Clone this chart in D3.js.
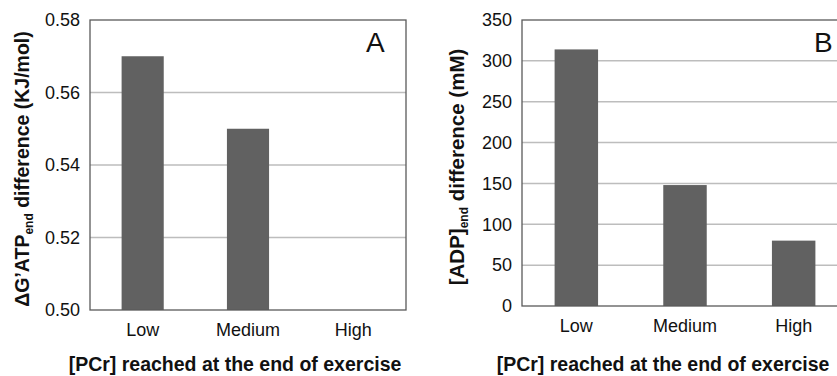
<!DOCTYPE html>
<html>
<head>
<meta charset="utf-8">
<script src="https://cdn.jsdelivr.net/npm/d3@7"></script>
<style>
  html, body { margin: 0; padding: 0; background: #fff; }
  svg { display: block; font-family: "Liberation Sans", Arial, sans-serif; }
</style>
</head>
<body>
<svg id="chart" width="837" height="376"></svg>
<script>
const categories = ["Low", "Medium", "High"];
const valuesA = [0.57, 0.55, 0.50];
const valuesB = [314, 148, 80];
const ticksA = [0.50, 0.52, 0.54, 0.56, 0.58];
const ticksB = [0, 50, 100, 150, 200, 250, 300, 350];
const xTitle = "[PCr] reached at the end of exercise";

const svg = d3.select("#chart");
const barColor = "#616161";
const gridColor = "#bdbdbd";
const frameColor = "#5a5a5a";

function panel(opts) {
  const g = svg.append("g");
  const x = d3.scaleBand().domain(categories).range([opts.left, opts.right]).paddingInner(0.6).paddingOuter(0.3);
  const y = d3.scaleLinear().domain(opts.domain).range([opts.bottom, opts.top]);

  g.selectAll("line.grid").data(opts.ticks.slice(1, -1)).join("line")
    .attr("x1", opts.left).attr("x2", opts.right)
    .attr("y1", d => y(d)).attr("y2", d => y(d))
    .attr("stroke", gridColor).attr("stroke-width", 1.5);

  g.selectAll("rect.bar").data(opts.values).join("rect")
    .attr("x", (d, i) => x(categories[i]))
    .attr("width", x.bandwidth())
    .attr("y", d => y(d))
    .attr("height", d => Math.max(0, y(opts.domain[0]) - y(d)))
    .attr("fill", barColor);

  g.append("rect")
    .attr("x", opts.left).attr("y", opts.top)
    .attr("width", opts.right - opts.left).attr("height", opts.bottom - opts.top)
    .attr("fill", "none").attr("stroke", frameColor).attr("stroke-width", 1.3);

  const yAxis = d3.axisLeft(y).tickValues(opts.ticks).tickFormat(opts.fmt).tickSize(0).tickPadding(10);
  const ya = g.append("g").attr("transform", `translate(${opts.left},0)`).call(yAxis);
  ya.select(".domain").remove();
  ya.selectAll("text").attr("font-size", 18).attr("fill", "#111").attr("font-family", "Liberation Sans, Arial, sans-serif");

  const xAxis = d3.axisBottom(x).tickSize(0).tickPadding(13);
  const xa = g.append("g").attr("transform", `translate(0,${opts.bottom})`).call(xAxis);
  xa.select(".domain").remove();
  xa.selectAll("text").attr("font-size", 18).attr("fill", "#111").attr("font-family", "Liberation Sans, Arial, sans-serif");

  g.append("text").attr("x", opts.letterX).attr("y", 52)
    .attr("font-size", 28).attr("fill", "#111").text(opts.letter);

  g.append("text").attr("x", opts.xTitleX).attr("y", 371)
    .attr("text-anchor", "middle").attr("font-size", 19.5).attr("font-weight", "bold")
    .attr("fill", "#111").text(xTitle);

  const yt = g.append("text")
    .attr("transform", `translate(${opts.yTitleX},${opts.yTitleY}) rotate(-90)`)
    .attr("text-anchor", "middle").attr("font-size", opts.yTitleSize).attr("font-weight", "bold").attr("fill", "#111");
  yt.append("tspan").text(opts.yTitle[0]);
  yt.append("tspan").attr("font-size", 12).attr("dy", 4).text(opts.yTitle[1]);
  yt.append("tspan").attr("dy", -4).text(opts.yTitle[2]);
}

panel({
  left: 90, right: 406, top: 20, bottom: 310,
  domain: [0.50, 0.58], ticks: ticksA, values: valuesA, fmt: d3.format(".2f"),
  letter: "A", letterX: 366, xTitleX: 235, yTitleSize: 19.5,
  yTitle: ["\u0394G\u2019ATP", "end", " difference (KJ/mol)"], yTitleX: 29, yTitleY: 169
});

panel({
  left: 522, right: 848, top: 20, bottom: 306,
  domain: [0, 350], ticks: ticksB, values: valuesB, fmt: d3.format("d"),
  letter: "B", letterX: 814, xTitleX: 663, yTitleSize: 20.5,
  yTitle: ["[ADP]", "end", " difference (mM)"], yTitleX: 464, yTitleY: 167
});
</script>
</body>
</html>
